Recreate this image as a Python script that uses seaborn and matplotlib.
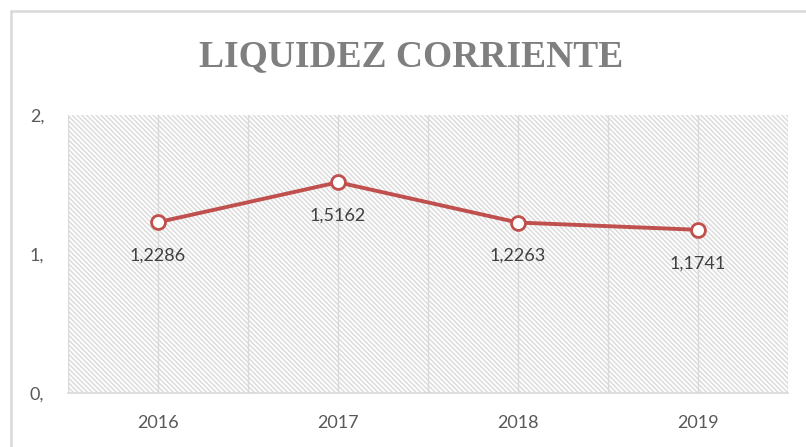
import matplotlib
matplotlib.use("Agg")
import matplotlib.pyplot as plt
import matplotlib.lines as mlines
from matplotlib.patches import Rectangle
import seaborn as sns
import pandas as pd
import numpy as np

# -----------------------------------------------------
# Data
# -----------------------------------------------------
years = ["2016", "2017", "2018", "2019"]
liquidez = [1.2286, 1.5162, 1.2263, 1.1741]
y_ticks = [0, 1, 2]
y_tick_labels = ["0,", "1,", "2,"]
title = "LIQUIDEZ CORRIENTE"

df = pd.DataFrame({"year": years, "value": liquidez})

# -----------------------------------------------------
# Style
# -----------------------------------------------------
sns.set_theme(style="white")
plt.rcParams["font.family"] = ["Lato", "DejaVu Sans"]
plt.rcParams["hatch.linewidth"] = 1.1
plt.rcParams["hatch.color"] = "#DCDCDC"

line_color = "#C0504D"
grid_color = "#D9D9D9"

fig = plt.figure(figsize=(8.06, 4.47), dpi=100)
ax = fig.add_axes([68 / 806, 1 - 393 / 447, 720 / 806, 278 / 447])

# hatched plot area
ax.patch.set_visible(False)
ax.add_patch(Rectangle((0, 0), 1, 1, transform=ax.transAxes, facecolor="white",
                       edgecolor="#DCDCDC", hatch="\\" * 7, lw=0, zorder=0))

sns.lineplot(data=df, x="year", y="value", ax=ax, color=line_color, lw=2.8,
             marker="o", markersize=10, markerfacecolor="white",
             markeredgecolor=line_color, markeredgewidth=2, zorder=3)

# data labels under points
for i, v in enumerate(liquidez):
    ax.annotate(f"{v:.4f}".replace(".", ","), (i, v), textcoords="offset points",
                xytext=(0, -24), ha="center", va="center", fontsize=13,
                color="#404040", zorder=4)

ax.set_xlim(-0.5, len(years) - 0.5)
ax.set_ylim(0, 2)
ax.set_yticks(y_ticks)
ax.set_yticklabels(y_tick_labels)
ax.set_xlabel("")
ax.set_ylabel("")

# vertical gridlines at centers and category boundaries
ax.set_xticks(np.arange(-0.5, len(years)), minor=True)
ax.grid(axis="x", which="both", color=grid_color, lw=1, zorder=1)
ax.grid(axis="y", visible=False)
ax.tick_params(axis="x", which="major", length=0, pad=16, labelsize=13, labelcolor="#595959")
ax.tick_params(axis="x", which="minor", length=32, width=1.2, color=grid_color, direction="out")
ax.tick_params(axis="y", length=0, pad=17, labelsize=13, labelcolor="#595959")

for side in ["top", "right", "left"]:
    ax.spines[side].set_visible(False)
ax.spines["bottom"].set_color(grid_color)
ax.spines["bottom"].set_linewidth(1.2)

fig.text(0.51, 1 - 57 / 447, title, ha="center", va="center", fontsize=27,
         fontweight="bold", family="Liberation Serif", color="#7F7F7F")

# chart frame (left and top edges)
fig.add_artist(mlines.Line2D([11 / 806, 11 / 806], [0, 1 - 11 / 447],
                             transform=fig.transFigure, color=grid_color, lw=1.8))
fig.add_artist(mlines.Line2D([11 / 806, 1], [1 - 11 / 447, 1 - 11 / 447],
                             transform=fig.transFigure, color=grid_color, lw=1.8))

fig.savefig("out.png", dpi=100, facecolor="white")
